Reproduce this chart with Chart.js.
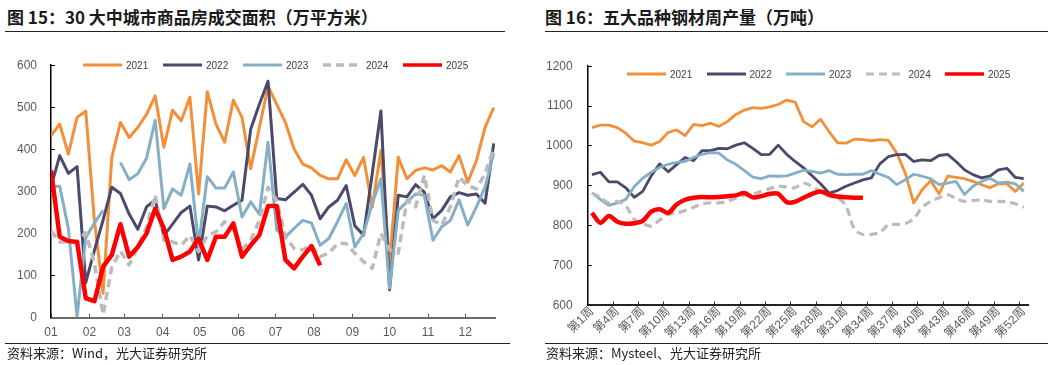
<!DOCTYPE html>
<html>
<head>
<meta charset="utf-8">
<script src="https://cdn.jsdelivr.net/npm/chart.js@4.4.1/dist/chart.umd.min.js"></script>
<style>
  body { margin: 0; background: #fff; }
  #page { position: relative; width: 1055px; height: 365px; overflow: hidden; font-family: "Noto Sans CJK SC", sans-serif; }
  .title { position: absolute; top: 5px; font-size: 17px; font-weight: bold; color: #1a1a1a; line-height: 24px; white-space: nowrap; }
  .rule { position: absolute; height: 0; border-top: 1.5px solid #222; }
  .source { position: absolute; top: 344px; font-size: 13px; color: #222; line-height: 17px; white-space: nowrap; }
  canvas { position: absolute; }
  .legend { position: absolute; display: flex; align-items: center; height: 10px; font-family: "Liberation Sans", Arial, sans-serif; font-size: 10px; color: #404040; }
  .legend .item { display: flex; align-items: center; }
  .legend svg { margin-right: 3px; }
</style>
</head>
<body>
<div id="page">
  <div class="title" style="left:7px">图 15：30 大中城市商品房成交面积（万平方米）</div>
  <div class="rule" style="left:5px; width:500px; top:31px"></div>
  <canvas id="charts1" width="520" height="312" style="left:0; top:40px"></canvas>
  <div class="legend" id="legend1" style="left:82px; top:60px"></div>
  <div class="rule" style="left:5px; width:505px; top:343px"></div>
  <div class="source" style="left:7px">资料来源：Wind，光大证券研究所</div>

  <div class="title" style="left:545px">图 16：五大品种钢材周产量（万吨）</div>
  <div class="rule" style="left:545px; width:503px; top:31px"></div>
  <canvas id="charts2" width="525" height="304" style="left:530px; top:40px"></canvas>
  <div class="legend" id="legend2" style="left:626px; top:69px"></div>
  <div class="rule" style="left:545px; width:503px; top:343px"></div>
  <div class="source" style="left:546px">资料来源：Mysteel、光大证券研究所</div>
</div>
<script>
// ---- chart 1: weekly floor area, 30 cities (10k m2) ----
const weekDays = [0,7,14,21,28,35,42,49,56,63,70,77,84,91,98,105,112,119,126,133,140,147,154,161,168,175,182,189,196,203,210,217,224,231,238,245,252,259,266,273,280,287,294,301,308,315,322,329,336,343,350,357];
const monthDays = [0,31,59,90,120,151,181,212,243,273,304,334];
const monthLabels = ['01','02','03','04','05','06','07','08','09','10','11','12'];

const area2021 = [432,460,389,476,491,230,58,381,464,428,452,483,527,405,493,468,524,294,537,460,417,517,476,354,452,550,507,464,401,365,356,338,330,330,375,338,381,263,397,128,381,330,350,356,351,361,346,385,322,373,452,499];
const area2022 = [310,385,343,359,83,160,232,310,295,246,210,263,280,195,222,250,265,137,265,263,254,267,279,448,507,562,283,280,298,317,291,235,263,279,314,218,196,342,491,66,291,287,316,298,235,255,287,297,291,294,272,414];
const area2023 = [312,312,212,3,190,225,255,null,369,328,342,379,469,259,306,291,365,172,335,308,308,346,239,275,246,417,208,192,212,231,225,172,188,228,271,168,200,271,330,70,255,275,294,291,184,216,231,280,220,263,310,391];
const area2024 = [206,180,180,180,202,129,7,120,158,125,168,215,291,184,180,172,195,157,195,204,228,212,162,184,231,310,279,192,165,161,172,145,153,176,176,153,133,117,200,161,153,279,263,338,231,220,263,334,314,306,342,405];
const area2025 = [350,192,182,180,46,39,121,149,222,145,168,200,259,212,137,145,157,188,137,192,192,224,145,172,196,265,265,137,117,145,170,124];

// ---- chart 2: weekly output of five steel products (10k t) ----
const weekLabels = Array.from({ length: 52 }, (_, i) => '第' + (i + 1) + '周');
const steel2021 = [1046,1052,1052,1046,1032,1012,1008,1002,1011,1034,1040,1026,1054,1051,1057,1049,1061,1079,1090,1096,1094,1098,1104,1115,1110,1061,1048,1067,1036,1008,1007,1017,1016,1013,1016,1014,982,932,857,890,913,880,924,921,918,911,903,895,905,905,886,907];
const steel2022 = [928,934,910,910,895,871,886,925,955,935,953,971,963,988,988,994,993,1002,1008,994,978,979,1002,979,961,945,925,905,882,888,899,907,915,920,955,973,978,979,961,965,963,976,979,961,940,928,920,924,940,944,921,918];
const steel2023 = [882,866,851,857,866,898,919,934,946,954,959,961,971,979,983,982,965,954,938,922,918,925,924,925,932,939,936,932,938,929,928,929,929,938,929,921,903,915,929,924,918,903,907,911,878,899,911,919,907,909,905,886];
const steel2024 = [882,871,857,861,850,816,805,799,814,828,832,838,846,855,857,857,861,869,876,879,886,893,899,897,895,907,898,886,874,870,850,791,778,778,783,802,803,805,818,846,861,870,878,868,861,863,865,861,861,860,855,846];
const steel2025 = [832,807,824,810,805,806,812,835,841,832,853,865,870,872,871,872,874,876,882,871,874,880,880,859,860,870,880,886,878,873,871,870,870];

const seriesNames = ['2021', '2022', '2023', '2024', '2025'];
const colors = ['#F28F38', '#4B4A6D', '#84AFC5', '#BBBBBB', '#FF0000'];

const tickFont = { family: '"Liberation Sans", Arial, "Noto Sans CJK SC", sans-serif', size: 12 };
const tickColor = '#595959';

function line(i, data, width, dash, tension) {
  return {
    label: seriesNames[i],
    data: data,
    borderColor: colors[i],
    backgroundColor: colors[i],
    borderWidth: width,
    borderDash: dash || [],
    borderJoinStyle: 'round',
    tension: tension || 0,
    pointRadius: 0,
    fill: false,
    order: 5 - i
  };
}

// html legend, built from the datasets
function buildLegend(chart, id, step) {
  const box = document.getElementById(id);
  chart.data.datasets.forEach(ds => {
    const item = document.createElement('div');
    item.className = 'item';
    item.style.width = step + 'px';
    const dash = (ds.borderDash || []).join(' ');
    item.innerHTML = '<svg width="41" height="8"><line x1="1" y1="4" x2="40" y2="4" stroke="' + ds.borderColor +
      '" stroke-width="' + Math.min(ds.borderWidth, 3.5) + '" stroke-dasharray="' + dash + '"/></svg><span>' + ds.label + '</span>';
    box.appendChild(item);
  });
}

const ctx1 = document.getElementById('charts1').getContext('2d');
const ctx2 = document.getElementById('charts2').getContext('2d');

const myChart1 = new Chart(ctx1, {
  type: 'line',
  data: {
    labels: weekDays,
    datasets: [
      line(0, area2021, 3),
      line(1, area2022, 3),
      line(2, area2023, 3),
      line(3, area2024, 3.5, [8, 5]),
      line(4, area2025, 4.5)
    ]
  },
  options: {
    responsive: false,
    animation: false,
    layout: { padding: { top: 24, right: 25, left: -1, bottom: 0 } },
    plugins: { legend: { display: false }, tooltip: { enabled: false } },
    scales: {
      x: {
        type: 'linear',
        min: 0,
        max: 358,
        afterBuildTicks: axis => { axis.ticks = monthDays.map(v => ({ value: v })); },
        ticks: { callback: (v, i) => monthLabels[i], maxRotation: 0, autoSkip: false, padding: 12, color: tickColor, font: tickFont },
        grid: { drawOnChartArea: false, tickLength: -4, color: '#595959', lineWidth: 1 },
        border: { color: '#6b6b6b', width: 2 }
      },
      y: {
        min: 0,
        max: 600,
        ticks: { stepSize: 100, padding: 18, color: tickColor, font: tickFont },
        grid: { drawOnChartArea: false, tickLength: -4, color: '#000', lineWidth: 1 },
        border: { color: '#000', width: 1.5 }
      }
    }
  }
});
buildLegend(myChart1, 'legend1', 80);

const myChart2 = new Chart(ctx2, {
  type: 'line',
  data: {
    labels: weekLabels,
    datasets: [
      line(0, steel2021, 2.8),
      line(1, steel2022, 2.8),
      line(2, steel2023, 2.8),
      line(3, steel2024, 3.2, [8, 5], 0.3),
      line(4, steel2025, 4.5, null, 0.3)
    ]
  },
  options: {
    responsive: false,
    animation: false,
    layout: { padding: { top: 24, right: 27, left: -3, bottom: 0 } },
    plugins: { legend: { display: false }, tooltip: { enabled: false } },
    scales: {
      x: {
        offset: true,
        ticks: {
          autoSkip: false,
          minRotation: 45,
          maxRotation: 45,
          padding: 3,
          color: tickColor,
          font: tickFont,
          callback: function (v, i) { return i % 3 === 0 ? this.getLabelForValue(v) : ''; }
        },
        grid: {
          offset: true,
          drawOnChartArea: false,
          tickLength: -4,
          color: c => (c.index % 3 === 0 && c.index > 0 && c.index < 52) ? '#333' : 'rgba(0,0,0,0)'
        },
        border: { color: '#222', width: 2 }
      },
      y: {
        min: 600,
        max: 1200,
        ticks: { stepSize: 100, padding: 19, color: tickColor, font: tickFont, callback: v => String(v) },
        grid: { drawOnChartArea: false, tickLength: -4, color: '#000', lineWidth: 1 },
        border: { color: '#000', width: 1.5 }
      }
    }
  }
});
buildLegend(myChart2, 'legend2', 79.5);
</script>
</body>
</html>
